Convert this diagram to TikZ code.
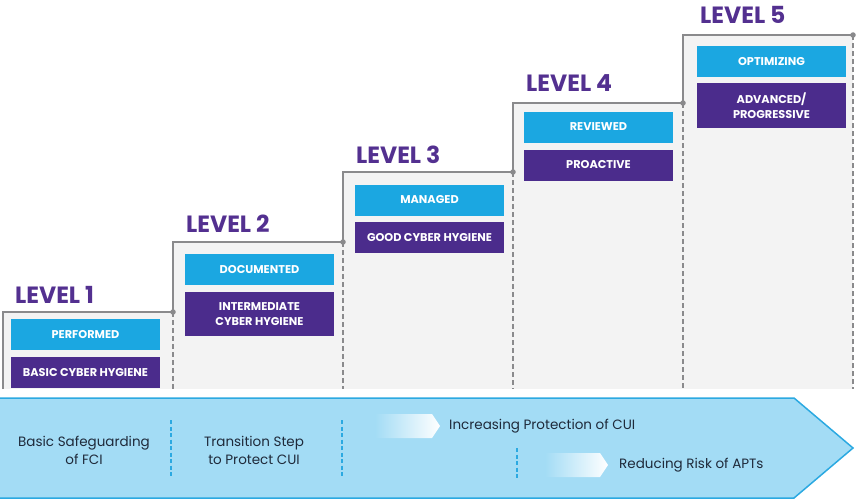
\documentclass[tikz,border=0pt]{standalone}
\usepackage{fontspec}
\setmainfont{Poppins}
\definecolor{cmcyan}{HTML}{1BA7E1}
\definecolor{cmpurple}{HTML}{4B2C8C}
\definecolor{lvlpurple}{HTML}{533090}
\definecolor{stepgrey}{HTML}{8A8A8C}
\definecolor{colgrey}{HTML}{F3F3F3}
\definecolor{bandfill}{HTML}{A3DCF5}
\definecolor{bandedge}{HTML}{2BA9E1}
\definecolor{bandtext}{HTML}{1F2A3A}
\tikzset{
  cyanbox/.style={fill=cmcyan, text=white, font=\bfseries\fontsize{11.3}{13}\selectfont, minimum width=149pt, minimum height=31pt, inner sep=0pt, align=center},
  purplebox/.style={fill=cmpurple, text=white, font=\bfseries\fontsize{11.3}{15.5}\selectfont, minimum width=149pt, inner sep=0pt, align=center},
  lvl/.style={text=lvlpurple, font=\bfseries\fontsize{23.5}{26}\selectfont, anchor=base west, inner sep=0pt},
  stepline/.style={draw=stepgrey, line width=2.6pt},
  dotmark/.style={circle, fill=stepgrey, inner sep=0pt, minimum size=5.5pt},
  coldash/.style={draw=stepgrey, line width=1.6pt, dash pattern=on 5pt off 3pt},
  bandlbl/.style={text=bandtext, font=\fontsize{13.5}{18}\selectfont, align=center, inner sep=0pt},
  banddash/.style={draw=bandedge, line width=1.3pt, dash pattern=on 4pt off 2.5pt},
}
\begin{document}
\begin{tikzpicture}[x=1pt,y=-1pt]
\useasboundingbox (0,0) rectangle (858,500);
% column backgrounds
\fill[colgrey] (3,312) rectangle (173,389);
\fill[colgrey] (173,242) rectangle (343,389);
\fill[colgrey] (343,172) rectangle (513,389);
\fill[colgrey] (513,103) rectangle (683,389);
\fill[colgrey] (683,35) rectangle (853,389);
% dots
\node[dotmark] (d1) at (173,312) {};
\node[dotmark] (d2) at (343,242) {};
\node[dotmark] (d3) at (513,172) {};
\node[dotmark] (d4) at (683,103) {};
\node[dotmark] (d5) at (853,35) {};
\coordinate (b0) at (3,389);
\coordinate (b1) at (173,389);
\coordinate (b2) at (343,389);
\coordinate (b3) at (513,389);
\coordinate (b4) at (683,389);
\coordinate (b5) at (853,389);
% dashed column edges
\draw[coldash] (d1.center) -- (b1);
\draw[coldash] (d2.center) -- (b2);
\draw[coldash] (d3.center) -- (b3);
\draw[coldash] (d4.center) -- (b4);
\draw[coldash] (d5.center) -- (b5);
% staircase
\draw[stepline, line join=miter] (b0) -- (3,312) -- (d1.center) -- (173,242) -- (d2.center) -- (343,172) -- (d3.center) -- (513,103) -- (d4.center) -- (683,35) -- (d5.center);
% level titles
\node[lvl] (l1) at (15,303) {LEVEL 1};
\node[lvl] (l2) at (186,232) {LEVEL 2};
\node[lvl] (l3) at (356,163) {LEVEL 3};
\node[lvl] (l4) at (526,92) {LEVEL 4};
\node[lvl] (l5) at (700,24) {LEVEL 5};
% boxes
\node[cyanbox] (p1) at (85.5,334.5) {PERFORMED};
\node[purplebox, minimum height=31pt] (q1) at (85.5,372.5) {BASIC CYBER HYGIENE};
\node[cyanbox] (p2) at (259.5,269.5) {DOCUMENTED};
\node[purplebox, minimum height=44pt] (q2) at (259.5,314) {INTERMEDIATE\\CYBER HYGIENE};
\node[cyanbox] (p3) at (429.5,200) {MANAGED};
\node[purplebox, minimum height=31pt] (q3) at (429.5,237.5) {GOOD CYBER HYGIENE};
\node[cyanbox] (p4) at (598.5,127) {REVIEWED};
\node[purplebox, minimum height=31pt] (q4) at (598.5,165) {PROACTIVE};
\node[cyanbox] (p5) at (771.5,61.5) {OPTIMIZING};
\node[purplebox, minimum height=44pt] (q5) at (771.5,105.5) {ADVANCED/\\PROGRESSIVE};
% bottom band
\draw[fill=bandfill, draw=bandedge, line width=1.5pt] (-2,398) -- (794,398) -- (853,448) -- (794,498) -- (-2,498) -- cycle;
% dashed separators
\draw[banddash] (171,420) -- (171,478);
\draw[banddash] (342,420) -- (342,478);
\draw[banddash] (517,448) -- (517,478);
% gradient arrows
\shade[left color=bandfill, right color=white] (375,414) -- (432,414) -- (440,426) -- (432,438) -- (375,438) -- cycle;
\shade[left color=bandfill, right color=white] (545,453) -- (600,453) -- (608,465) -- (600,477) -- (545,477) -- cycle;
% band labels
\node[bandlbl] (t1) at (84,450) {Basic Safeguarding\\of FCI};
\node[bandlbl] (t2) at (254,450) {Transition Step\\to Protect CUI};
\node[bandlbl, anchor=west] (t3) at (449,426) {Increasing Protection of CUI};
\node[bandlbl, anchor=west] (t4) at (619,465) {Reducing Risk of APTs};
\end{tikzpicture}
\end{document}
